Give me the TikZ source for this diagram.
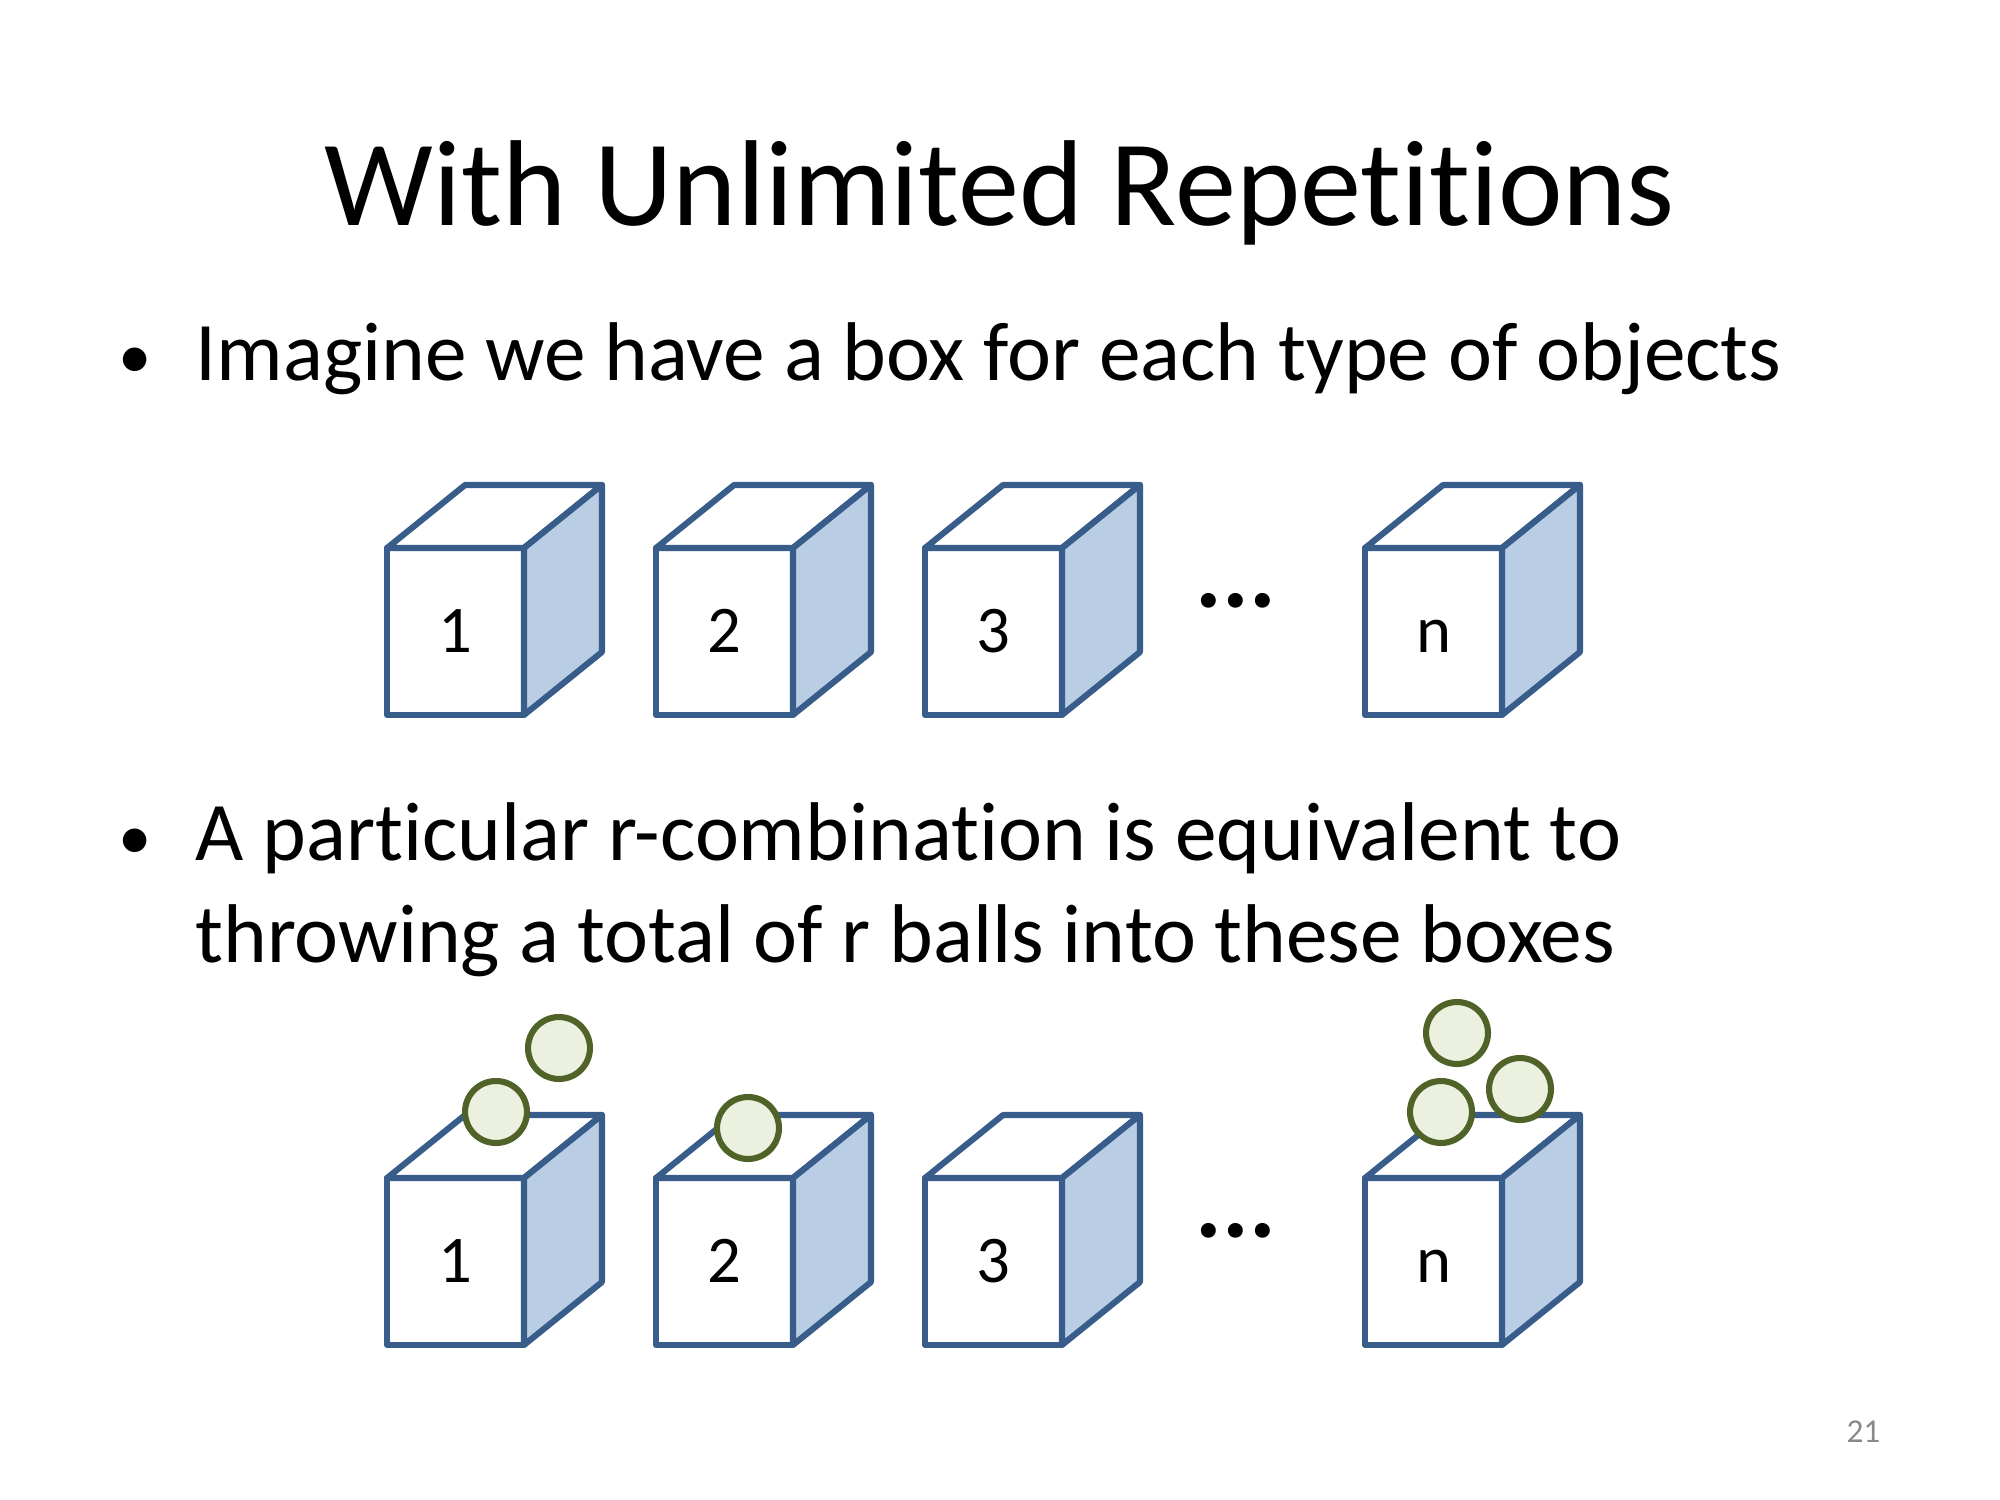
\documentclass[tikz,border=0pt]{standalone}
\usepackage{fontspec}
\setmainfont{Carlito}[Ligatures=NoCommon, Contextuals=NoAlternate]
\definecolor{boxline}{HTML}{385D8A}
\definecolor{boxside}{HTML}{B9CDE5}
\definecolor{ballline}{HTML}{4F6228}
\definecolor{ballfill}{HTML}{EBF1DE}
\definecolor{pagegray}{HTML}{898989}
\begin{document}
\begin{tikzpicture}[
        x=0.36pt, y=-0.36pt,
        front/.style={draw=boxline, fill=white, line width=2.2pt, line join=round,
            minimum width=49.3pt, minimum height=60.1pt, inner sep=0pt, outer sep=0pt,
            text height=15pt, text depth=0pt, font=\fontsize{24}{28}\selectfont},
        face/.style={draw=boxline, line width=2.2pt, line join=round},
        ball/.style={draw=ballline, fill=ballfill, circle, line width=2.2pt,
            minimum size=22.3pt, inner sep=0pt},
        title/.style={anchor=base, inner sep=0pt, font=\fontsize{44}{52}\selectfont},
        bullettext/.style={anchor=base west, inner sep=0pt, align=left,
            font=\fontsize{30}{36.4}\selectfont},
        bulletdot/.style={anchor=base, inner sep=0pt, font=\fontsize{24}{28}\selectfont},
        dots/.style={inner sep=0pt, font=\fontsize{36}{40}\selectfont\bfseries}
    ]
        \useasboundingbox (0,0) rectangle (2000,1500);
        % Title and text
        \node[title] (title) at (1000,226) {With Unlimited Repetitions};
        \node[bulletdot] (dot1) at (135,379) {•};
        \node[bullettext] (item1) at (195,381) {Imagine we have a box for each type of objects};
        \node[bulletdot] (dot2) at (135,859) {•};
        \node[bullettext] (item2) at (195,962) {A particular r-combination is equivalent to\\throwing a total of r balls into these boxes};
        % Two rows of boxes
        \foreach \y/\r in {631.5/t, 1261.5/b} {
            \foreach \x/\lbl in {455.5/1, 724.5/2, 993.5/3, 1433.5/n} {
                \node[front] (\r\lbl) at (\x,\y) {\lbl};
                \draw[face, fill=white] (\r\lbl.north west) -- ++(78,-63) -- ++(137,0) -- (\r\lbl.north east) -- cycle;
                \draw[face, fill=boxside] (\r\lbl.north east) -- ++(78,-63) -- ++(0,167) -- (\r\lbl.south east) -- cycle;
            }
            \node[dots] (\r dots) at (1236,\y-31) {...};
        }
        % Balls thrown into the boxes
        \node[ball] (ball1) at (559,1048) {};
        \node[ball] (ball2) at (496,1112) {};
        \node[ball] (ball3) at (748,1128) {};
        \node[ball] (ball4) at (1457,1033) {};
        \node[ball] (ball5) at (1441,1112) {};
        \node[ball] (ball6) at (1520,1089) {};
        \node[anchor=base west, inner sep=0pt, text=pagegray, font=\fontsize{12}{14}\selectfont] (page) at (1846,1442) {21};
\end{tikzpicture}
\end{document}
